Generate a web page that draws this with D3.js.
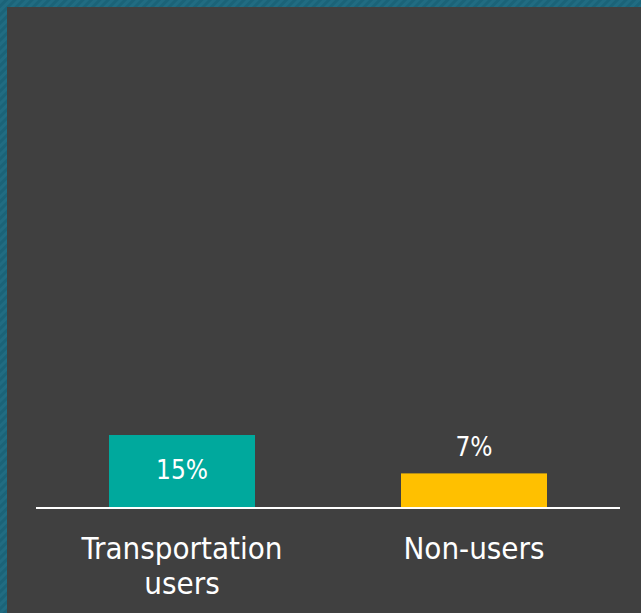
<!DOCTYPE html>
<html>
<head>
<meta charset="utf-8">
<script src="https://cdn.jsdelivr.net/npm/d3@7/dist/d3.min.js"></script>
<style>
  html, body { margin: 0; padding: 0; background: #404040; }
  svg { display: block; }
</style>
</head>
<body>
<script>
// Share of each group (fractions)
const categories = ["Transportation users", "Non-users"];
const values = [0.15, 0.07];
const valueLabels = ["15%", "7%"];
const colors = ["#00a99d", "#ffc000"];
const labelInside = [true, false];

const W = 641, H = 613;
const svg = d3.select("body").append("svg").attr("width", W).attr("height", H);

// Striped teal frame along the top and left edges
const defs = svg.append("defs");
const pat = defs.append("pattern")
  .attr("id", "frame").attr("width", 6).attr("height", 6)
  .attr("patternUnits", "userSpaceOnUse")
  .attr("patternTransform", "rotate(45)");
pat.append("rect").attr("width", 6).attr("height", 6).attr("fill", "#1b6378");
pat.append("rect").attr("width", 3).attr("height", 6).attr("fill", "#216c82");

svg.append("rect").attr("width", W).attr("height", H).attr("fill", "url(#frame)");
svg.append("rect").attr("x", 7).attr("y", 7).attr("width", W - 7).attr("height", H - 7).attr("fill", "#404040");

const baseY = 507;
const x = d3.scaleBand().domain(categories).range([36, 620]).paddingInner(0.5).paddingOuter(0.25);
const y = d3.scaleLinear().domain([0, 1]).range([baseY, 27]);

const font = "'DejaVu Sans Condensed', 'DejaVu Sans', sans-serif";

const g = svg.append("g");
g.selectAll("rect.bar").data(categories).join("rect")
  .attr("class", "bar")
  .attr("x", d => x(d))
  .attr("width", x.bandwidth())
  .attr("y", (d, i) => y(values[i]))
  .attr("height", (d, i) => baseY - y(values[i]))
  .attr("fill", (d, i) => colors[i]);

// Value labels: inside tall bars, above short ones
g.selectAll("text.val").data(categories).join("text")
  .attr("class", "val")
  .attr("x", d => x(d) + x.bandwidth() / 2)
  .attr("y", (d, i) => labelInside[i]
    ? (y(values[i]) + baseY) / 2 + 8
    : y(values[i]) - 17)
  .attr("text-anchor", "middle")
  .attr("fill", "#ffffff")
  .style("font-family", font)
  .style("font-size", "26px")
  .text((d, i) => valueLabels[i]);

// Baseline axis
const axis = d3.axisBottom(x).tickSize(0).tickFormat("");
const ax = svg.append("g").attr("transform", `translate(0,${baseY + 1})`).call(axis);
ax.select(".domain").attr("stroke", "#ffffff").attr("stroke-width", 2).attr("d", "M36,0H620");

// Category labels, wrapped onto two lines where needed
const catLines = [["Transportation", "users"], ["Non-users"]];
categories.forEach((c, i) => {
  const t = svg.append("text")
    .attr("x", x(c) + x.bandwidth() / 2)
    .attr("y", 559)
    .attr("text-anchor", "middle")
    .attr("fill", "#ffffff")
    .style("font-family", font)
    .style("font-size", "31px");
  catLines[i].forEach((ln, k) => {
    t.append("tspan").attr("x", x(c) + x.bandwidth() / 2).attr("dy", k === 0 ? 0 : 35).text(ln);
  });
});
</script>
</body>
</html>
